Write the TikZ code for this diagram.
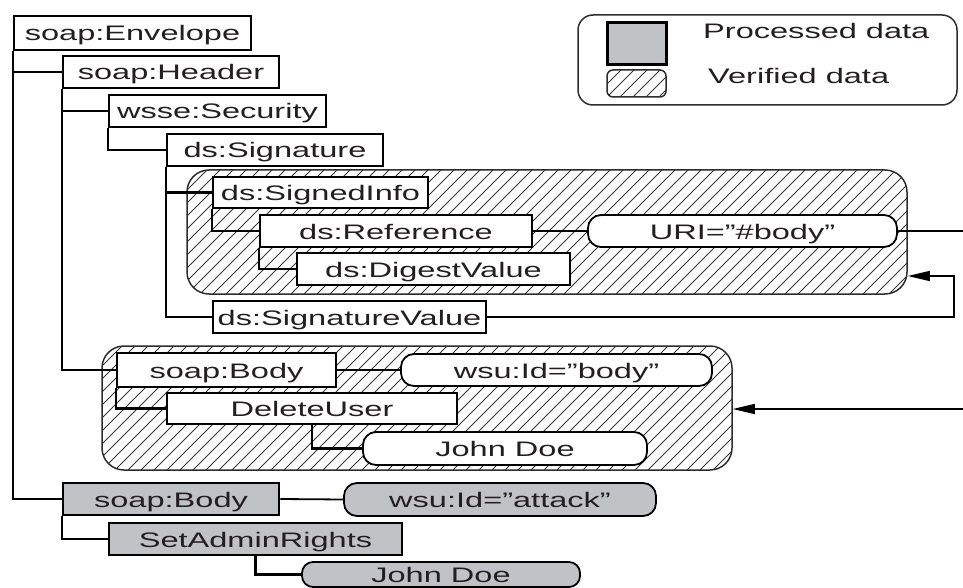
\documentclass[tikz,border=0pt]{standalone}
\usepackage{fontspec}
\setmainfont{Liberation Sans}[FakeStretch=1.55]
\usetikzlibrary{arrows.meta}

\definecolor{ink}{RGB}{35,31,32}
\definecolor{procgray}{RGB}{193,194,198}
\definecolor{hatchc}{RGB}{55,55,55}
\definecolor{rim}{RGB}{45,45,45}

\tikzset{
  base/.style={inner sep=0pt, text height=16pt, text depth=0pt,
    font=\fontsize{21}{25}\selectfont, text=ink},
  elem/.style={base, rectangle, draw=black, line width=2.5pt, fill=white},
  attr/.style={base, rectangle, rounded corners=13pt, draw=black, line width=1.8pt, fill=white},
  proc/.style={fill=procgray},
  tree/.style={draw=black, line width=2.5pt},
  link/.style={draw=black, line width=1.8pt},
  flow/.style={draw=black, line width=1.5pt},
  tip/.style={-{Triangle[length=22pt,width=10pt]}},
  region/.style={rectangle, rounded corners=22pt, draw=rim, line width=1.5pt, inner sep=0pt,
    path picture={
      \foreach \k in {-12,...,60}{
        \draw[hatchc, line width=0.9pt, sharp corners]
          ([xshift=\k*13pt]path picture bounding box.south west) -- ++(150pt,150pt);
      }
    }}
}

\begin{document}
\begin{tikzpicture}[x=1pt,y=-1pt]
\useasboundingbox (0,0) rectangle (963,588);
\clip (0,0) rectangle (963,588);

% verified (hatched) areas
\node[region, minimum width=720, minimum height=124] (r1) at (547,232) {};
\node[region, minimum width=630, minimum height=124] (r2) at (417,408) {};

% legend
\node[rectangle, rounded corners=15pt, draw=rim, line width=1.5pt, inner sep=0pt,
      minimum width=379, minimum height=90] (legend) at (767.5,60) {};
\node[elem, proc, line width=3pt, minimum width=59, minimum height=42] (kproc) at (636.5,44) {};
\node[region, rounded corners=6pt, minimum width=59, minimum height=27] (kver) at (636.5,83.5) {};
\node[base, anchor=base west] (lproc) at (703,38.3) {Processed data};
\node[base, anchor=base west] (lver) at (708,83.3) {Verified data};

% element tree
\node[elem, minimum width=237, minimum height=34] (env) at (132.5,33) {soap:Envelope};
\node[elem, minimum width=216, minimum height=32] (hdr) at (171,72) {soap:Header};
\node[elem, minimum width=217, minimum height=32] (sec) at (217.5,111) {wsse:Security};
\node[elem, minimum width=216, minimum height=32] (sig) at (275,150) {ds:Signature};
\node[elem, minimum width=215, minimum height=31] (sinfo) at (320.5,192.5) {ds:SignedInfo};
\node[elem, minimum width=272, minimum height=32] (ref) at (396,231) {ds:Reference};
\node[attr, minimum width=309, minimum height=32] (uri) at (742.5,231) {URI=”\#body”};
\node[elem, minimum width=273, minimum height=32] (dig) at (433.5,269) {ds:DigestValue};
\node[elem, minimum width=273, minimum height=32] (sval) at (349.5,317) {ds:SignatureValue};

\node[elem, minimum width=219, minimum height=34] (body) at (226.5,370) {soap:Body};
\node[attr, minimum width=311, minimum height=32] (bid) at (556.5,370) {wsu:Id=”body”};
\node[elem, minimum width=290, minimum height=31] (del) at (312,408.5) {DeleteUser};
\node[attr, minimum width=284, minimum height=33] (jd1) at (505,448.5) {John Doe};

\node[elem, proc, minimum width=216, minimum height=32] (abody) at (171,499) {soap:Body};
\node[attr, proc, minimum width=312, minimum height=33] (aid) at (500,499.5) {wsu:Id=”attack”};
\node[elem, proc, minimum width=293, minimum height=32] (adm) at (255.5,539) {SetAdminRights};
\node[attr, proc, minimum width=278, minimum height=25, rounded corners=11pt] (jd2) at (441,574.5) {John Doe};

% parent-child connectors
\draw[tree] (env.south west) |- (hdr.west);
\draw[tree] (env.south west) |- (abody.west);
\draw[tree] (hdr.south west) |- (sec.west);
\draw[tree] (hdr.south west) |- (body.west);
\draw[tree] (sec.south west) |- (sig.west);
\draw[tree] (sig.south west) |- (sinfo.west);
\draw[tree] (sig.south west) |- (sval.west);
\draw[tree] (sinfo.south west) |- (ref.west);
\draw[tree] (ref.south west) |- (dig.west);
\draw[tree] (body.south west) |- (del.west);
\draw[tree] (del.south) |- (jd1.west);
\draw[tree] (abody.south west) |- (adm.west);
\draw[tree] (adm.south) |- (jd2.west);

% attribute links
\draw[link] (ref.east) -- (uri.west);
\draw[link] (body.east) -- (bid.west);
\draw[link] (abody.east) -- (aid.west);

% reference flows
\coordinate (outA) at (963,231);
\coordinate (turnB) at (954,276);
\coordinate (inC) at (963,409);
\draw[flow] (uri.east) -- (outA);
\draw[flow, tip] (sval.east) -| (turnB) -- (turnB -| r1.east);
\draw[flow, tip] (inC) -- (inC -| r2.east);
\end{tikzpicture}
\end{document}
